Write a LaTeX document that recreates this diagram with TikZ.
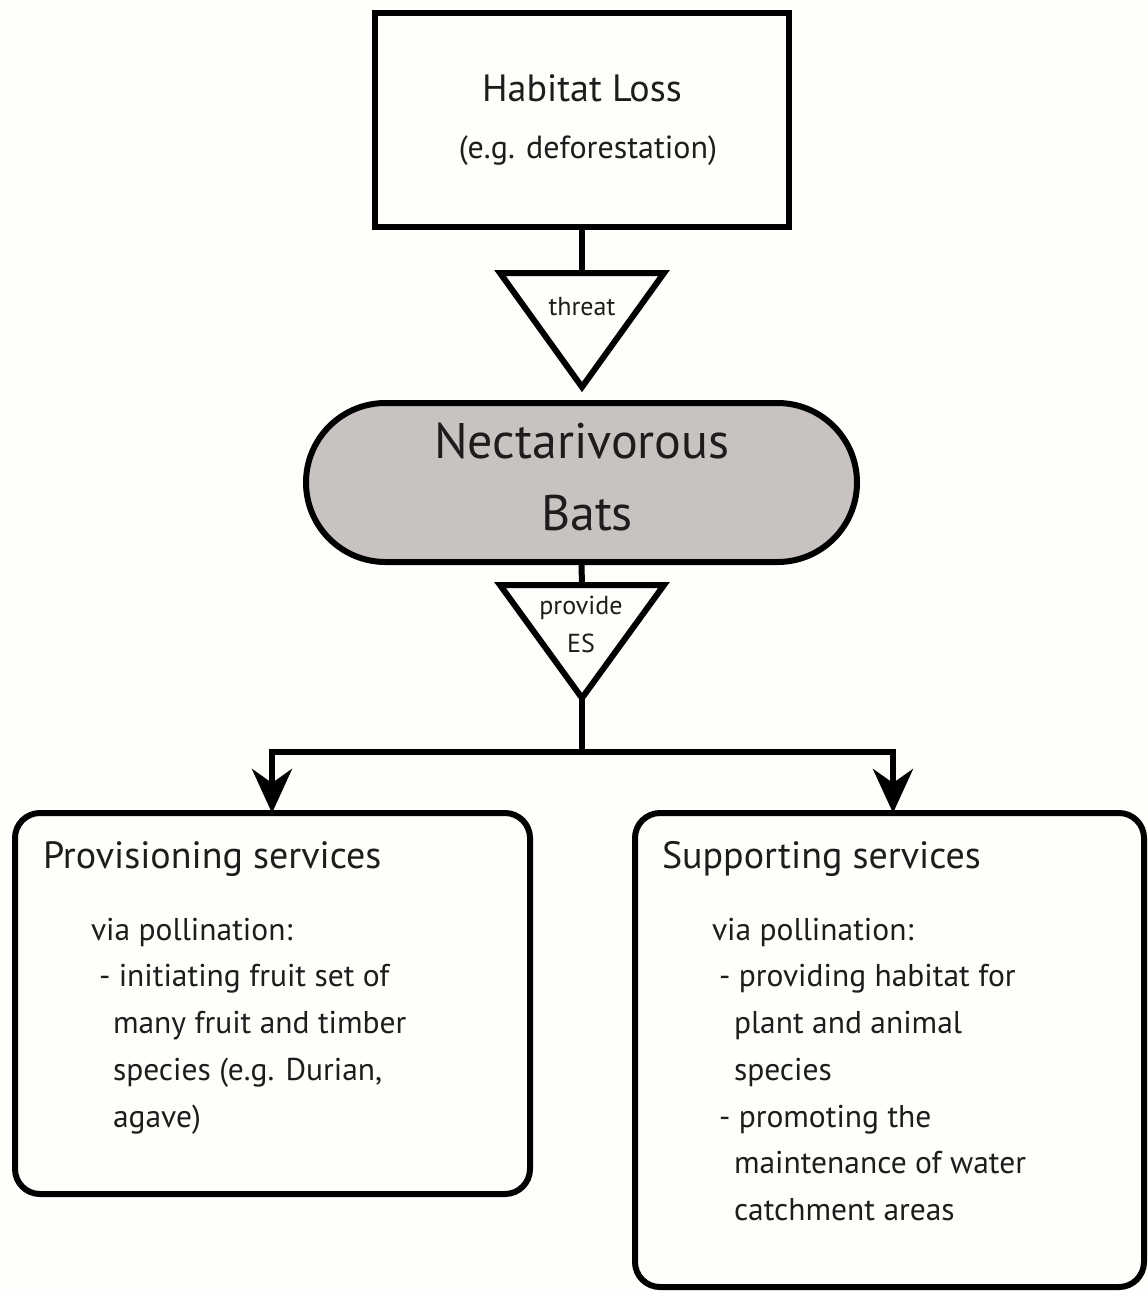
\documentclass[tikz,border=0pt]{standalone}
\usepackage{fontspec}
\setmainfont{PT Sans}
\usetikzlibrary{arrows.meta}
\definecolor{bgc}{RGB}{254,254,251}
\definecolor{batgray}{RGB}{200,195,192}
\definecolor{ink}{RGB}{30,28,28}
\begin{document}
\begin{tikzpicture}[x=1pt,y=-1pt,line width=6pt,
  box/.style={draw=black,line width=6pt,inner sep=0pt,fill=bgc},
  tri/.style={draw=black,line width=6pt,line join=miter,fill=bgc},
  conn/.style={draw=black,line width=6pt,line join=miter},
  arr/.style={conn,-{Stealth[length=44pt,width=40pt,inset=14pt]}},
  txt/.style={text=ink,inner sep=0pt},
  fhl/.style={font=\fontsize{38}{44}\selectfont},
  fsub/.style={font=\fontsize{32}{38}\selectfont},
  ftri/.style={font=\fontsize{26}{30}\selectfont},
  fbat/.style={font=\fontsize{50}{58}\selectfont},
  fhead/.style={font=\fontsize{38}{44}\selectfont},
  fbody/.style={font=\fontsize{31.5}{36}\selectfont}]
\useasboundingbox (0,0) rectangle (1148,1291);
\fill[bgc] (0,0) rectangle (1148,1291);

% top box
\node[box,minimum width=414pt,minimum height=214pt] (hl) at (582,120) {};
\node[txt,fhl,anchor=base] (hlt) at (582,101) {Habitat Loss};
\node[txt,fsub,anchor=base] (hls) at (588,158) {(e.g. deforestation)};

% threat triangle
\coordinate (t1top) at (582,273);
\coordinate (t1apex) at (582,387);
\draw[tri] (500,273) -- (664,273) -- (t1apex) -- cycle;
\node[txt,ftri,anchor=base] (thr) at (582,315) {threat};
\draw[conn] (hl.south) -- (t1top);

% bats
\node[box,fill=batgray,rounded corners=79.5pt,minimum width=551pt,minimum height=159pt] (bats) at (581.5,482.5) {};
\node[txt,fbat,anchor=base] (bt1) at (582,458) {Nectarivorous};
\node[txt,fbat,anchor=base] (bt2) at (587,530) {Bats};

% provide triangle
\coordinate (t2top) at (582,585);
\coordinate (t2apex) at (582,698);
\draw[tri] (500,585) -- (664,585) -- (t2apex) -- cycle;
\node[txt,ftri,anchor=base] (pv1) at (581,614) {provide};
\node[txt,ftri,anchor=base] (pv2) at (581,652) {ES};
\draw[conn] (bats.south) -- (t2top);

% split
\coordinate (split) at (582,752);
\draw[conn] (t2apex) -- (split);

% service boxes
\node[box,rounded corners=25pt,minimum width=515pt,minimum height=381pt] (prov) at (272.5,1003.5) {};
\node[box,rounded corners=25pt,minimum width=509pt,minimum height=474pt] (supp) at (889.5,1050) {};
\coordinate (lin) at (272,813);
\coordinate (rin) at (893,813);
\draw[arr] (split) -| (lin);
\draw[arr] (split) -| (rin);

% provisioning text
\node[txt,fhead,anchor=base west] (p0) at (40,868) {Provisioning services};
\node[txt,fbody,anchor=base west] (p1) at (88,940) {via pollination:};
\node[txt,fbody,anchor=base west] (p2) at (96,986) {- initiating fruit set of};
\node[txt,fbody,anchor=base west] (p3) at (110,1033) {many fruit and timber};
\node[txt,fbody,anchor=base west] (p4) at (110,1080) {species (e.g. Durian,};
\node[txt,fbody,anchor=base west] (p5) at (110,1127) {agave)};

% supporting text
\node[txt,fhead,anchor=base west] (s0) at (659,868) {Supporting services};
\node[txt,fbody,anchor=base west] (s1) at (709,940) {via pollination:};
\node[txt,fbody,anchor=base west] (s2) at (716,986) {- providing habitat for};
\node[txt,fbody,anchor=base west] (s3) at (731,1033) {plant and animal};
\node[txt,fbody,anchor=base west] (s4) at (731,1080) {species};
\node[txt,fbody,anchor=base west] (s5) at (716,1127) {- promoting the};
\node[txt,fbody,anchor=base west] (s6) at (731,1173) {maintenance of water};
\node[txt,fbody,anchor=base west] (s7) at (731,1220) {catchment areas};
\end{tikzpicture}
\end{document}
